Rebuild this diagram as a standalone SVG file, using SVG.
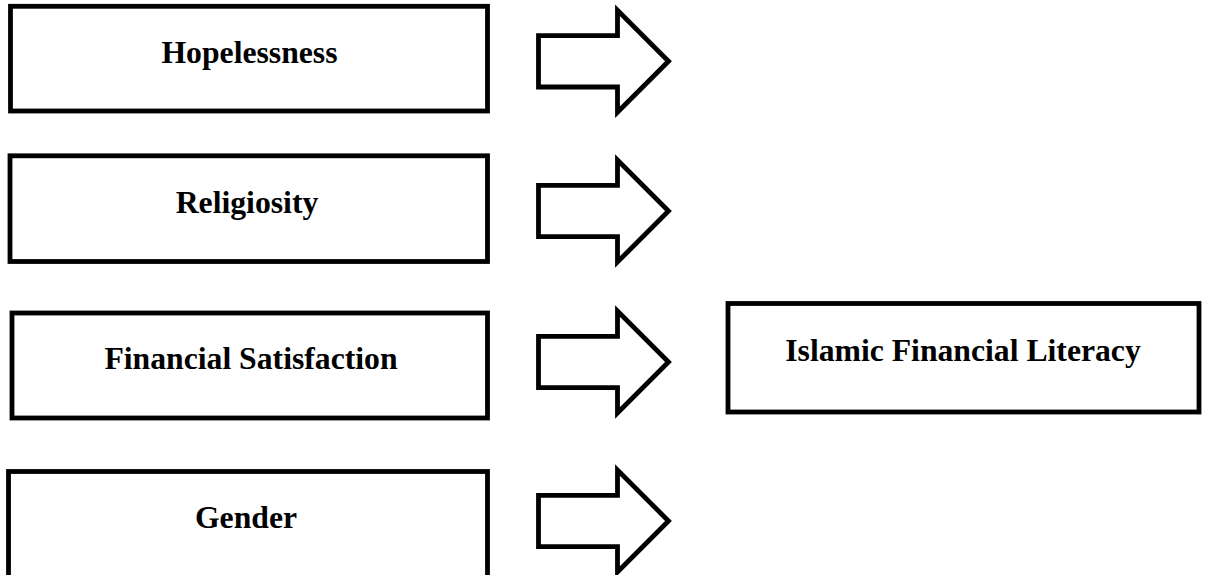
<svg xmlns="http://www.w3.org/2000/svg" width="1214" height="575" viewBox="0 0 1214 575">
<style>
.box{fill:#fff;stroke:#000;stroke-width:4.8}
.arr{fill:#fff;stroke:#000;stroke-width:4.8;stroke-linejoin:miter}
.lbl{font-family:"Liberation Serif","Times New Roman",serif;font-weight:bold;font-size:31.7px;fill:#000;text-anchor:middle}
</style>
<defs>
<path id="arrow" class="arr" d="M538.5,-25.7 H617.5 V-51 L668.5,0 L617.5,51 V25.7 H538.5 Z"/>
</defs>
<g id="hopelessness">
<rect class="box" x="10.5" y="6.3" width="477" height="104.7"/>
<text class="lbl" x="249.5" y="62.5">Hopelessness</text>
</g>
<g id="religiosity">
<rect class="box" x="10" y="155.8" width="477.5" height="105.7"/>
<text class="lbl" x="247" y="212.7">Religiosity</text>
</g>
<g id="financial-satisfaction">
<rect class="box" x="12" y="313" width="475.5" height="105"/>
<text class="lbl" x="251" y="369.3">Financial Satisfaction</text>
</g>
<g id="gender">
<rect class="box" x="8.5" y="471.5" width="479" height="106"/>
<text class="lbl" x="246" y="528">Gender</text>
</g>
<g id="islamic-financial-literacy">
<rect class="box" x="728" y="303.5" width="471" height="108.5"/>
<text class="lbl" x="963" y="361">Islamic Financial Literacy</text>
</g>
<g id="connectors">
<use href="#arrow" transform="translate(0,61.3)"/>
<use href="#arrow" transform="translate(0,211)"/>
<use href="#arrow" transform="translate(0,362)"/>
<use href="#arrow" transform="translate(0,521)"/>
</g>
</svg>
